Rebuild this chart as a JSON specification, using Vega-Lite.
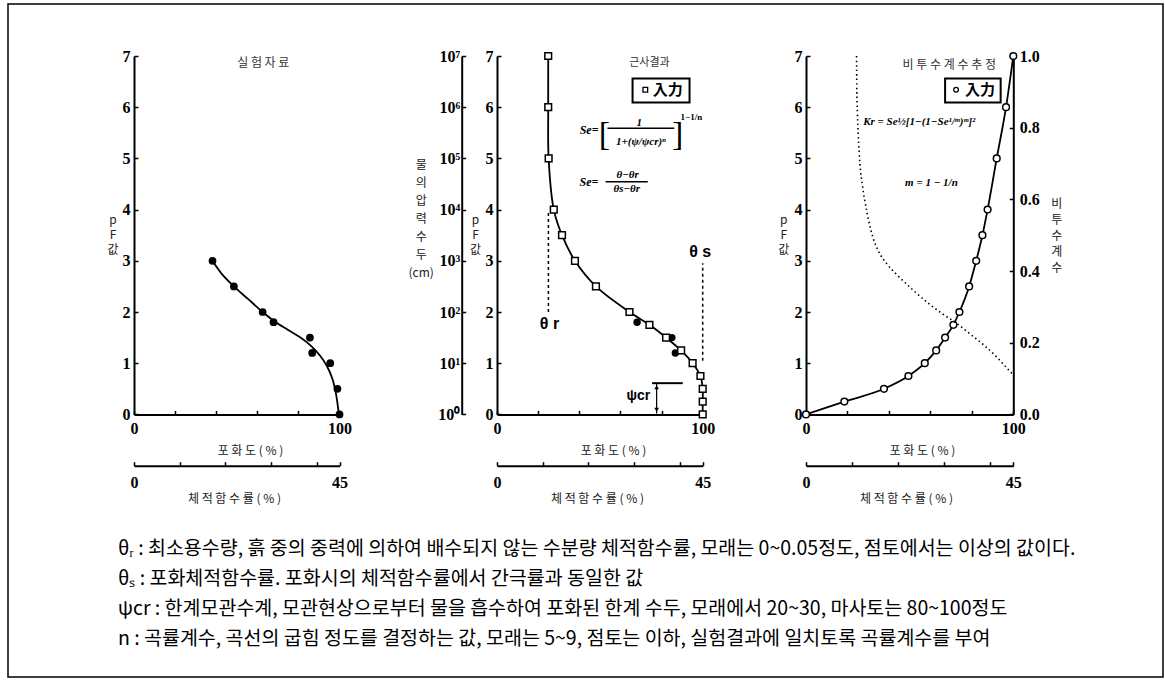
{
  "$schema": "https://vega.github.io/schema/vega-lite/v6.json",
  "padding": {"left": 7, "top": 3, "right": 0, "bottom": 0},
  "background": "white",
  "config": {
    "view": {"stroke": null},
    "axis": {"grid": false, "domainColor": "black", "domainWidth": 2, "tickColor": "black", "tickWidth": 1.5, "tickSize": -4, "labelFont": "Liberation Sans Narrow", "labelFontWeight": "bold", "labelFontSize": 16, "labelColor": "black", "labelFlush": false, "labelOverlap": false, "titleFont": "Noto Sans CJK KR", "titleFontSize": 12, "titleFontWeight": "normal", "titleColor": "#222"}
  },
  "spacing": 0,
  "bounds": "flush",
  "vconcat": [
    {
      "spacing": 0,
      "bounds": "flush",
      "vconcat": [
        {"width": 1, "height": 51.3, "data": {"values": []}, "mark": "point"},
        {
          "spacing": 0,
          "bounds": "flush",
          "hconcat": [
            {"width": 125.5, "height": 1, "data": {"values": []}, "mark": "point"},
            {
              "width": 205.5, "height": 358.4,
              "layer": [
                {"layer": [
                  {"data": {"values": [{"s":38.2,"pF":3.0},{"s":42.6,"pF":2.75},{"s":48.6,"pF":2.5},{"s":55.6,"pF":2.25},{"s":62.6,"pF":2.0},{"s":68.6,"pF":1.81},{"s":75,"pF":1.65},{"s":81,"pF":1.5},{"s":86.4,"pF":1.33},{"s":90.5,"pF":1.15},{"s":93.8,"pF":0.95},{"s":96.5,"pF":0.7},{"s":98.3,"pF":0.4},{"s":99.7,"pF":0}]},
                   "mark": {"type": "line", "color": "black", "strokeWidth": 1.8, "interpolate": "catmull-rom"},
                   "encoding": {
                     "x": {"field": "s", "type": "quantitative", "scale": {"domain": [0, 100], "nice": false}, "axis": {"values": [0,10,20,30,40,50,60,70,80,90,100], "labelExpr": "datum.value % 50 === 0 ? datum.label : ''", "labelPadding": 10, "labelFlush": false, "title": "포 화 도  ( % )", "titleX": 116, "titleY": 36, "titleAlign": "center", "titleBaseline": "middle"}},
                     "y": {"field": "pF", "type": "quantitative", "scale": {"domain": [0, 7], "nice": false}, "axis": {"values": [0,1,2,3,4,5,6,7], "format": "d", "labelPadding": 8, "title": ["p", "F", "값"], "titleAngle": 0, "titleX": -21.5, "titleY": 158, "titleAlign": "center", "titleBaseline": "top", "titleLineHeight": 15}},
                     "order": {"field": "pF", "sort": "descending"}
                   }},
                  {"data": {"values": [{"s":38.2,"pF":3.0},{"s":48.6,"pF":2.5},{"s":62.6,"pF":2.0},{"s":67.9,"pF":1.8},{"s":85.6,"pF":1.5},{"s":86.7,"pF":1.2},{"s":95.5,"pF":1.0},{"s":99.0,"pF":0.5},{"s":100,"pF":0}]},
                   "mark": {"type": "circle", "size": 60, "color": "black", "opacity": 1},
                   "encoding": {"x": {"field": "s", "type": "quantitative"}, "y": {"field": "pF", "type": "quantitative"}}},
                  {"data": {"values": [{"s":62.9,"pF":6.86,"label":"실 험 자 료"}]},
                   "mark": {"type": "text", "font": "Noto Sans CJK KR", "fontSize": 12, "color": "#333", "align": "center", "baseline": "middle"},
                   "encoding": {"x": {"field": "s", "type": "quantitative"}, "y": {"field": "pF", "type": "quantitative"}, "text": {"field": "label"}}}
                ]},
                {"data": {"values": [{"w":0},{"w":45}]},
                 "mark": {"type": "point", "opacity": 0},
                 "encoding": {"x": {"field": "w", "type": "quantitative", "scale": {"domain": [0, 45], "nice": false}, "axis": {"orient": "bottom", "offset": 51.3, "values": [0,10,20,30,40,45], "labelExpr": "datum.value === 0 || datum.value === 45 ? datum.label : ''", "labelPadding": 13, "labelFlush": false, "title": "체 적 함 수 률  ( % )", "titleX": 100, "titleY": 33, "titleAlign": "center", "titleBaseline": "middle"}}}}
              ],
              "resolve": {"scale": {"x": "independent"}}
            },
            {"width": 156.3, "height": 1, "data": {"values": []}, "mark": "point"},
            {
              "width": 205.7, "height": 358.4,
              "layer": [
                {"layer": [
                  {"data": {"values": [{"s":25,"pF":2.0,"pF2":3.95},{"s":100,"pF":1.05,"pF2":2.95}]},
                   "mark": {"type": "rule", "color": "black", "strokeWidth": 1.5, "strokeDash": [3, 3]},
                   "encoding": {
                     "x": {"field": "s", "type": "quantitative", "scale": {"domain": [0, 100], "nice": false}, "axis": {"values": [0,10,20,30,40,50,60,70,80,90,100], "labelExpr": "datum.value % 50 === 0 ? datum.label : ''", "labelPadding": 10, "labelFlush": false, "title": "포 화 도  ( % )", "titleX": 116, "titleY": 36, "titleAlign": "center", "titleBaseline": "middle"}},
                     "y": {"field": "pF", "type": "quantitative", "scale": {"domain": [0, 7], "nice": false}, "axis": {"values": [0,1,2,3,4,5,6,7], "format": "d", "labelPadding": 8, "title": ["p", "F", "값"], "titleAngle": 0, "titleX": -22, "titleY": 158, "titleAlign": "center", "titleBaseline": "top", "titleLineHeight": 15}},
                     "y2": {"field": "pF2"}
                   }},
                  {"data": {"values": [{"s":24.9,"pF":7},{"s":24.9,"pF":6},{"s":25.1,"pF":5},{"s":27.6,"pF":4},{"s":31.6,"pF":3.5},{"s":37.9,"pF":3.0},{"s":48.1,"pF":2.5},{"s":64.4,"pF":2.0},{"s":74.1,"pF":1.75},{"s":82.2,"pF":1.5},{"s":89.5,"pF":1.25},{"s":95.1,"pF":1.0},{"s":98.9,"pF":0.75},{"s":100,"pF":0.5},{"s":100,"pF":0.25},{"s":100,"pF":0}]},
                   "mark": {"type": "line", "color": "black", "strokeWidth": 1.8, "interpolate": "catmull-rom"},
                   "encoding": {"x": {"field": "s", "type": "quantitative"}, "y": {"field": "pF", "type": "quantitative"}, "order": {"field": "pF", "sort": "descending"}}},
                  {"data": {"values": [{"s":68.1,"pF":1.8},{"s":85,"pF":1.5},{"s":86.7,"pF":1.2}]},
                   "mark": {"type": "circle", "size": 55, "color": "black", "opacity": 1},
                   "encoding": {"x": {"field": "s", "type": "quantitative"}, "y": {"field": "pF", "type": "quantitative"}}},
                  {"data": {"values": [{"s":24.9,"pF":7},{"s":24.9,"pF":6},{"s":25.1,"pF":5},{"s":27.6,"pF":4},{"s":31.6,"pF":3.5},{"s":37.9,"pF":3.0},{"s":48.1,"pF":2.5},{"s":64.4,"pF":2.0},{"s":74.1,"pF":1.75},{"s":82.2,"pF":1.5},{"s":89.5,"pF":1.25},{"s":95.1,"pF":1.0},{"s":98.9,"pF":0.75},{"s":100,"pF":0.5},{"s":100,"pF":0.25},{"s":100,"pF":0}]},
                   "mark": {"type": "point", "shape": "square", "size": 45, "filled": true, "fill": "white", "stroke": "black", "strokeWidth": 1.5, "opacity": 1},
                   "encoding": {"x": {"field": "s", "type": "quantitative"}, "y": {"field": "pF", "type": "quantitative"}}},
                  {"data": {"values": [{"s":75.4,"s2":90.3,"pF":0.61}]},
                   "mark": {"type": "rule", "color": "black", "strokeWidth": 2},
                   "encoding": {"x": {"field": "s", "type": "quantitative"}, "x2": {"field": "s2"}, "y": {"field": "pF", "type": "quantitative"}}},
                  {"data": {"values": [{"s":77.6,"pF":0.02,"pF2":0.6}]},
                   "mark": {"type": "rule", "color": "black", "strokeWidth": 1.2},
                   "encoding": {"x": {"field": "s", "type": "quantitative"}, "y": {"field": "pF", "type": "quantitative"}, "y2": {"field": "pF2"}}},
                  {"data": {"values": [{"s":77.6,"pF":0.53}]},
                   "mark": {"type": "point", "shape": "triangle-up", "size": 22, "filled": true, "color": "black", "opacity": 1},
                   "encoding": {"x": {"field": "s", "type": "quantitative"}, "y": {"field": "pF", "type": "quantitative"}}},
                  {"data": {"values": [{"s":77.6,"pF":0.09}]},
                   "mark": {"type": "point", "shape": "triangle-down", "size": 22, "filled": true, "color": "black", "opacity": 1},
                   "encoding": {"x": {"field": "s", "type": "quantitative"}, "y": {"field": "pF", "type": "quantitative"}}},
                  {"data": {"values": [{"s":25.5,"pF":1.76,"label":"θ r"},{"s":98.8,"pF":3.18,"label":"θ s"}]},
                   "mark": {"type": "text", "font": "Liberation Sans", "fontWeight": "bold", "fontSize": 16, "color": "black", "align": "center", "baseline": "middle"},
                   "encoding": {"x": {"field": "s", "type": "quantitative"}, "y": {"field": "pF", "type": "quantitative"}, "text": {"field": "label"}}},
                  {"data": {"values": [{"s":68.7,"pF":0.35,"label":"ψcr"}]},
                   "mark": {"type": "text", "font": "Liberation Sans", "fontWeight": "bold", "fontSize": 14, "color": "black", "align": "center", "baseline": "middle"},
                   "encoding": {"x": {"field": "s", "type": "quantitative"}, "y": {"field": "pF", "type": "quantitative"}, "text": {"field": "label"}}},
                  {"data": {"values": [{"s":74.1,"pF":6.86,"label":"근사결과"}]},
                   "mark": {"type": "text", "font": "Noto Sans CJK KR", "fontSize": 11, "color": "#333", "align": "center", "baseline": "middle"},
                   "encoding": {"x": {"field": "s", "type": "quantitative"}, "y": {"field": "pF", "type": "quantitative"}, "text": {"field": "label"}}},
                  {"data": {"values": [{"s":65.9,"s2":93.6,"pF":6.09,"pF2":6.56}]},
                   "mark": {"type": "rect", "fill": "white", "stroke": "black", "strokeWidth": 2},
                   "encoding": {"x": {"field": "s", "type": "quantitative"}, "x2": {"field": "s2"}, "y": {"field": "pF", "type": "quantitative"}, "y2": {"field": "pF2"}}},
                  {"data": {"values": [{"s":72.1,"pF":6.34}]},
                   "mark": {"type": "point", "shape": "square", "size": 22, "filled": true, "fill": "white", "stroke": "black", "strokeWidth": 1.3, "opacity": 1},
                   "encoding": {"x": {"field": "s", "type": "quantitative"}, "y": {"field": "pF", "type": "quantitative"}}},
                  {"data": {"values": [{"s":83.0,"pF":6.34,"label":"入力"}]},
                   "mark": {"type": "text", "font": "Noto Sans CJK JP", "fontWeight": "bold", "fontSize": 15, "color": "black", "align": "center", "baseline": "middle"},
                   "encoding": {"x": {"field": "s", "type": "quantitative"}, "y": {"field": "pF", "type": "quantitative"}, "text": {"field": "label"}}},
                  {"data": {"values": [{"s":40.2,"pF":5.55,"label":"Se="},{"s":40.1,"pF":4.53,"label":"Se="}]},
                   "mark": {"type": "text", "font": "Liberation Serif", "fontWeight": "bold", "fontStyle": "italic", "fontSize": 12, "color": "black", "align": "left", "baseline": "middle"},
                   "encoding": {"x": {"field": "s", "type": "quantitative"}, "y": {"field": "pF", "type": "quantitative"}, "text": {"field": "label"}}},
                  {"data": {"values": [{"s":69.2,"pF":5.70,"label":"1"},{"s":70.0,"pF":5.33,"label":"1+(ψ/ψcr)ⁿ"},{"s":63.5,"pF":4.67,"label":"θ−θr"},{"s":63.1,"pF":4.41,"label":"θs−θr"}]},
                   "mark": {"type": "text", "font": "Liberation Serif", "fontWeight": "bold", "fontStyle": "italic", "fontSize": 11, "color": "black", "align": "center", "baseline": "middle"},
                   "encoding": {"x": {"field": "s", "type": "quantitative"}, "y": {"field": "pF", "type": "quantitative"}, "text": {"field": "label"}}},
                  {"data": {"values": [{"s":52.2,"pF":5.45,"label":"["},{"s":87.8,"pF":5.45,"label":"]"}]},
                   "mark": {"type": "text", "font": "Liberation Serif", "fontSize": 34, "color": "black", "align": "center", "baseline": "middle"},
                   "encoding": {"x": {"field": "s", "type": "quantitative"}, "y": {"field": "pF", "type": "quantitative"}, "text": {"field": "label"}}},
                  {"data": {"values": [{"s":94.5,"pF":5.8,"label":"1−1/n"}]},
                   "mark": {"type": "text", "font": "Liberation Serif", "fontWeight": "bold", "fontSize": 9, "color": "black", "align": "center", "baseline": "middle"},
                   "encoding": {"x": {"field": "s", "type": "quantitative"}, "y": {"field": "pF", "type": "quantitative"}, "text": {"field": "label"}}},
                  {"data": {"values": [{"s":53.7,"s2":86.2,"pF":5.59},{"s":52.8,"s2":73.3,"pF":4.545}]},
                   "mark": {"type": "rule", "color": "black", "strokeWidth": 1.4},
                   "encoding": {"x": {"field": "s", "type": "quantitative"}, "x2": {"field": "s2"}, "y": {"field": "pF", "type": "quantitative"}}}
                ]},
                {"data": {"values": [{"h":0},{"h":7}]},
                 "mark": {"type": "point", "opacity": 0},
                 "encoding": {"y": {"field": "h", "type": "quantitative", "scale": {"domain": [0, 7], "nice": false}, "axis": {"orient": "left", "offset": 35.3, "values": [0,1,2,3,4,5,6,7], "labelExpr": "'10' + ['⁰','¹','²','³','⁴','⁵','⁶','⁷'][datum.value]", "labelPadding": 6, "title": ["물", "의", "압", "력", "수", "두", "(cm)"], "titleAngle": 0, "titleX": -41, "titleY": 103, "titleAlign": "center", "titleBaseline": "top", "titleLineHeight": 18}}}},
                {"data": {"values": [{"w":0},{"w":45}]},
                 "mark": {"type": "point", "opacity": 0},
                 "encoding": {"x": {"field": "w", "type": "quantitative", "scale": {"domain": [0, 45], "nice": false}, "axis": {"orient": "bottom", "offset": 51.3, "values": [0,10,20,30,40,45], "labelExpr": "datum.value === 0 || datum.value === 45 ? datum.label : ''", "labelPadding": 13, "labelFlush": false, "title": "체 적 함 수 률  ( % )", "titleX": 100, "titleY": 33, "titleAlign": "center", "titleBaseline": "middle"}}}}
              ],
              "resolve": {"scale": {"x": "independent", "y": "independent"}}
            },
            {"width": 102.7, "height": 1, "data": {"values": []}, "mark": "point"},
            {
              "width": 207.3, "height": 358.4,
              "layer": [
                {"layer": [
                  {"data": {"values": [{"s":0,"pF":0},{"s":18.5,"pF":0.25},{"s":37.6,"pF":0.5},{"s":49.4,"pF":0.75},{"s":57.3,"pF":1.0},{"s":62.8,"pF":1.25},{"s":67.1,"pF":1.5},{"s":71.1,"pF":1.75},{"s":74,"pF":2.0},{"s":78.7,"pF":2.5},{"s":82.1,"pF":3.0},{"s":85.1,"pF":3.5},{"s":87.6,"pF":4.0},{"s":92.0,"pF":5.0},{"s":96.5,"pF":6.0},{"s":100,"pF":7.0}]},
                   "layer": [
                     {"mark": {"type": "line", "color": "black", "strokeWidth": 1.8, "interpolate": "monotone"},
                      "encoding": {
                        "x": {"field": "s", "type": "quantitative", "scale": {"domain": [0, 100], "nice": false}, "axis": {"values": [0,10,20,30,40,50,60,70,80,90,100], "labelExpr": "datum.value % 50 === 0 ? datum.label : ''", "labelPadding": 10, "labelFlush": false, "title": "포 화 도  ( % )", "titleX": 116, "titleY": 36, "titleAlign": "center", "titleBaseline": "middle"}},
                        "y": {"field": "pF", "type": "quantitative", "scale": {"domain": [0, 7], "nice": false}, "axis": {"values": [0,1,2,3,4,5,6,7], "format": "d", "labelPadding": 8, "title": ["p", "F", "값"], "titleAngle": 0, "titleX": -22.7, "titleY": 158, "titleAlign": "center", "titleBaseline": "top", "titleLineHeight": 15}}
                      }},
                     {"mark": {"type": "point", "shape": "circle", "size": 45, "filled": true, "fill": "white", "stroke": "black", "strokeWidth": 1.5, "opacity": 1},
                      "encoding": {"x": {"field": "s", "type": "quantitative"}, "y": {"field": "pF", "type": "quantitative"}}}
                   ]},
                  {"data": {"values": [{"s":69.1,"pF":6.82,"label":"비 투 수 계 수 추 정"}]},
                   "mark": {"type": "text", "font": "Noto Sans CJK KR", "fontSize": 12, "color": "#333", "align": "center", "baseline": "middle"},
                   "encoding": {"x": {"field": "s", "type": "quantitative"}, "y": {"field": "pF", "type": "quantitative"}, "text": {"field": "label"}}},
                  {"data": {"values": [{"s":67.1,"s2":93.9,"pF":6.09,"pF2":6.56}]},
                   "mark": {"type": "rect", "fill": "white", "stroke": "black", "strokeWidth": 2},
                   "encoding": {"x": {"field": "s", "type": "quantitative"}, "x2": {"field": "s2"}, "y": {"field": "pF", "type": "quantitative"}, "y2": {"field": "pF2"}}},
                  {"data": {"values": [{"s":72.4,"pF":6.34}]},
                   "mark": {"type": "point", "shape": "circle", "size": 22, "filled": true, "fill": "white", "stroke": "black", "strokeWidth": 1.3, "opacity": 1},
                   "encoding": {"x": {"field": "s", "type": "quantitative"}, "y": {"field": "pF", "type": "quantitative"}}},
                  {"data": {"values": [{"s":83.9,"pF":6.34,"label":"入力"}]},
                   "mark": {"type": "text", "font": "Noto Sans CJK JP", "fontWeight": "bold", "fontSize": 15, "color": "black", "align": "center", "baseline": "middle"},
                   "encoding": {"x": {"field": "s", "type": "quantitative"}, "y": {"field": "pF", "type": "quantitative"}, "text": {"field": "label"}}},
                  {"data": {"values": [{"s":27.6,"pF":5.71,"label":"Kr = Se½[1−(1−Se¹/ᵐ)ᵐ]²"},{"s":47.8,"pF":4.51,"label":"m = 1 − 1/n"}]},
                   "mark": {"type": "text", "font": "Liberation Serif", "fontWeight": "bold", "fontStyle": "italic", "fontSize": 11, "color": "black", "align": "left", "baseline": "middle"},
                   "encoding": {"x": {"field": "s", "type": "quantitative"}, "y": {"field": "pF", "type": "quantitative"}, "text": {"field": "label"}}}
                ]},
                {"data": {"values": [{"s":24.4,"kr":1.0},{"s":24.5,"kr":0.92},{"s":24.8,"kr":0.84},{"s":25.2,"kr":0.78},{"s":26,"kr":0.70},{"s":27.2,"kr":0.64},{"s":29.3,"kr":0.567},{"s":32.5,"kr":0.49},{"s":35,"kr":0.455},{"s":39,"kr":0.42},{"s":43.8,"kr":0.39},{"s":52,"kr":0.345},{"s":59.9,"kr":0.306},{"s":66,"kr":0.28},{"s":72.7,"kr":0.254},{"s":79,"kr":0.225},{"s":85.7,"kr":0.194},{"s":92,"kr":0.16},{"s":96,"kr":0.135},{"s":100,"kr":0.11}]},
                 "mark": {"type": "line", "color": "black", "strokeWidth": 1.6, "strokeDash": [1.5, 3], "interpolate": "monotone"},
                 "encoding": {
                   "x": {"field": "s", "type": "quantitative", "scale": {"domain": [0, 100], "nice": false}, "axis": null},
                   "y": {"field": "kr", "type": "quantitative", "scale": {"domain": [0, 1], "nice": false}, "axis": {"orient": "right", "values": [0, 0.2, 0.4, 0.6, 0.8, 1.0], "format": ".1f", "labelPadding": 10, "title": ["비", "투", "수", "계", "수"], "titleAngle": 0, "titleX": 43, "titleY": 142, "titleAlign": "center", "titleBaseline": "top", "titleLineHeight": 16}}
                 }},
                {"data": {"values": [{"w":0},{"w":45}]},
                 "mark": {"type": "point", "opacity": 0},
                 "encoding": {"x": {"field": "w", "type": "quantitative", "scale": {"domain": [0, 45], "nice": false}, "axis": {"orient": "bottom", "offset": 51.3, "values": [0,10,20,30,40,45], "labelExpr": "datum.value === 0 || datum.value === 45 ? datum.label : ''", "labelPadding": 13, "labelFlush": false, "title": "체 적 함 수 률  ( % )", "titleX": 100, "titleY": 33, "titleAlign": "center", "titleBaseline": "middle"}}}}
              ],
              "resolve": {"scale": {"x": "independent", "y": "independent"}}
            }
          ]
        }
      ]
    },
    {
      "width": 1155, "height": 673,
      "view": {"stroke": "black", "strokeWidth": 1.5},
      "data": {"values": [
        {"line": 1, "label": "θᵣ : 최소용수량, 흙 중의 중력에 의하여 배수되지 않는 수분량 체적함수률, 모래는 0~0.05정도, 점토에서는 이상의 값이다."},
        {"line": 2, "label": "θₛ : 포화체적함수률. 포화시의 체적함수률에서 간극률과 동일한 값"},
        {"line": 3, "label": "ψcr : 한계모관수계, 모관현상으로부터 물을 흡수하여 포화된 한계 수두, 모래에서 20~30, 마사토는 80~100정도"},
        {"line": 4, "label": "n : 곡률계수, 곡선의 굽힘 정도를 결정하는 값, 모래는 5~9, 점토는 이하, 실험결과에 일치토록 곡률계수를 부여"}
      ]},
      "mark": {"type": "text", "align": "left", "baseline": "middle", "font": "Noto Sans CJK KR", "fontSize": 19.5, "fontWeight": "normal", "color": "black"},
      "encoding": {
        "x": {"datum": 0, "type": "quantitative", "scale": {"domain": [-0.0952, 0.9048], "nice": false, "zero": false}, "axis": null},
        "y": {"field": "line", "type": "quantitative", "scale": {"domain": [-17.167, 5.267], "reverse": true, "nice": false, "zero": false}, "axis": null},
        "text": {"field": "label"}
      }
    }
  ]
}
